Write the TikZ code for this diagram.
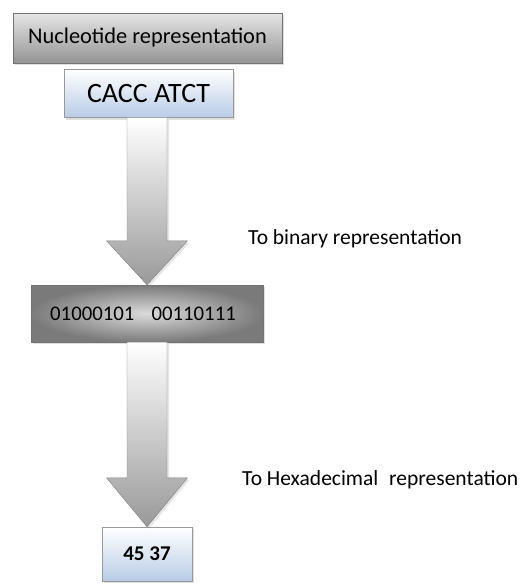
\documentclass[tikz,border=0pt]{standalone}
\usepackage{fontspec}
\setmainfont{Carlito}
\usetikzlibrary{calc,shadows}
\definecolor{paleblue}{RGB}{184,204,230}
\begin{document}
\begin{tikzpicture}[x=1pt,y=-1pt,
    box/.style={draw=black!55,rectangle,inner sep=0pt,
      drop shadow={shadow xshift=2pt,shadow yshift=-2pt,opacity=0.25}},
    graybox/.style={box,top color=black!10,bottom color=black!42},
    bluebox/.style={box,draw=black!40,top color=white,bottom color=paleblue},
    darkbox/.style={box,inner color=black!14,outer color=black!52},
    blockarrow/.style={draw=black!50,top color=white,bottom color=black!40,
      drop shadow={shadow xshift=2pt,shadow yshift=-2pt,opacity=0.2}},
    label/.style={anchor=west,inner sep=0pt,font=\fontsize{21.5}{24}\selectfont}]
  \useasboundingbox (0,0) rectangle (522,584);
  \node[graybox,minimum width=269pt,minimum height=50pt,
    font=\fontsize{22.4}{24}\selectfont] (nuc) at (147.5,38) {Nucleotide representation};
  \node[bluebox,minimum width=169pt,minimum height=48pt,
    font=\fontsize{28}{30}\selectfont] (seq) at (148.5,93.5) {CACC ATCT};
  \node[darkbox,minimum width=232pt,minimum height=57pt,
    font=\fontsize{20.8}{22}\selectfont] (bin) at (147,313.5)
    {\hspace*{-8pt}01000101\hspace{17pt}00110111};
  \node[bluebox,minimum width=90pt,minimum height=54pt,
    font=\fontsize{21}{22}\selectfont\bfseries] (hex) at (147,554) {45 37};
  \node[label] (tobin) at (248,239) {To binary representation};
  \node[label] (tohex) at (242,480) {To Hexadecimal\hspace{6pt} representation};
  % block arrows between the boxes
  \path[blockarrow] ($(seq.south -| bin.north)+(-20,0)$) -- ($(bin.north)+(-20,-44)$)
    -- ++(-20.5,0) -- (bin.north) -- ($(bin.north)+(40.5,-44)$) -- ++(-20.5,0)
    -- ($(seq.south -| bin.north)+(20,0)$) -- cycle;
  \path[blockarrow] ($(bin.south -| hex.north)+(-20,0)$) -- ($(hex.north)+(-20,-49)$)
    -- ++(-20.5,0) -- (hex.north) -- ($(hex.north)+(40.5,-49)$) -- ++(-20.5,0)
    -- ($(bin.south -| hex.north)+(20,0)$) -- cycle;
\end{tikzpicture}
\end{document}
